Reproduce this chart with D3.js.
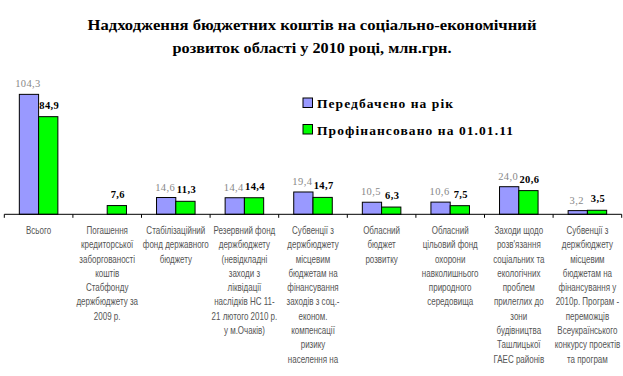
<!DOCTYPE html>
<html lang="uk">
  <head>
    <meta charset="UTF-8" />
    <title>Надходження бюджетних коштів</title>
    <script src="https://cdn.jsdelivr.net/npm/d3@7"></script>
  </head>
  <style>
    body {
      margin: 0;
      background: #fff;
    }
  </style>
  <body>
    <div class="chart"></div>
  </body>

  <script>
    "use strict";

    const categories = [
      ["Всього"],
      ["Погашення", "кредиторської", "заборгованості", "коштів", "Стабфонду", "держбюджету  за", "2009 р."],
      ["Стабілізаційний", "фонд державного", "бюджету"],
      ["Резервний фонд", "держбюджету", "(невідкладні", "заходи з", "ліквідації", "наслідків НС  11-", "21 лютого 2010 р.", "у м.Очаків)"],
      ["Субвенції з", "держбюджету", "місцевим", "бюджетам на", "фінансування", "заходів з соц.-", "економ.", "компенсації", "ризику", "населення на"],
      ["Обласний", "бюджет", "розвитку"],
      ["Обласний", "цільовий фонд", "охорони", "навколишнього", "природного", "середовища"],
      ["Заходи щодо", "розв'язання", "соціальних  та", "екологічних", "проблем", "прилеглих до", "зони", "будівництва", "Ташлицької", "ГАЕС районів"],
      ["Субвенції з", "держбюджету", "місцевим", "бюджетам на", "фінансування у", "2010р. Програм -", "переможців", "Всеукраїнського", "конкурсу  проектів", "та програм"],
    ];
    const planned = [104.3, null, 14.6, 14.4, 19.4, 10.5, 10.6, 24.0, 3.2];
    const financed = [84.9, 7.6, 11.3, 14.4, 14.7, 6.3, 7.5, 20.6, 3.5];
    const seriesNames = ["Передбачено на рік", "Профінансовано на 01.01.11"];
    const titleLines = [
      "Надходження бюджетних коштів  на соціально-економічний",
      "розвиток області  у 2010 році, млн.грн.",
    ];

    const width = 623;
    const height = 376;
    const baseY = 214.3;

    const svg = d3
      .select(".chart")
      .append("svg")
      .attr("width", width)
      .attr("height", height)
      .attr("viewBox", [0, 0, width, height]);

    // title
    svg
      .append("g")
      .selectAll("text")
      .data(titleLines)
      .enter()
      .append("text")
      .attr("x", 312)
      .attr("y", (d, i) => 30 + i * 23)
      .attr("text-anchor", "middle")
      .attr("textLength", (d, i) => (i == 0 ? 449 : 279))
      .attr("lengthAdjust", "spacingAndGlyphs")
      .style("font-family", "'Liberation Serif', 'Times New Roman', serif")
      .style("font-weight", "bold")
      .style("font-size", "15.5px")
      .text((d) => d);

    const idx = d3.range(categories.length);

    const x = d3.scaleBand().domain(idx).range([4.3, 621.7]).padding(0);

    const x1 = d3
      .scaleBand()
      .domain([0, 1])
      .range([0, x.bandwidth()])
      .paddingInner(0)
      .paddingOuter(0.78);

    const y = d3.scaleLinear().domain([0, 120]).range([baseY, baseY - 138]);

    const colors = ["#9999ff", "#00ff00"];

    const rows = [];
    idx.forEach((i) => {
      rows.push({ cat: i, s: 0, v: planned[i] });
      rows.push({ cat: i, s: 1, v: financed[i] });
    });
    const bars = rows.filter((d) => d.v != null);

    svg
      .append("g")
      .selectAll("rect")
      .data(bars)
      .enter()
      .append("rect")
      .attr("x", (d) => x(d.cat) + x1(d.s))
      .attr("y", (d) => y(d.v))
      .attr("width", x1.bandwidth())
      .attr("height", (d) => y(0) - y(d.v))
      .attr("fill", (d) => colors[d.s])
      .attr("stroke", "black")
      .attr("stroke-width", 1);

    // value labels
    svg
      .append("g")
      .selectAll("text")
      .data(bars)
      .enter()
      .append("text")
      .attr("x", (d) => x(d.cat) + x1(d.s) + x1.bandwidth() / 2 + (d.s == 0 ? -1 : 1))
      .attr("y", (d) => y(d.v) - (d.s == 0 ? 7 : 8))
      .attr("text-anchor", "middle")
      .style("font-family", "'Liberation Serif', 'Times New Roman', serif")
      .style("font-size", "10.5px")
      .style("letter-spacing", "0.4px")
      .style("font-weight", (d) => (d.s == 1 ? "bold" : "normal"))
      .style("fill", (d) => (d.s == 1 ? "#000" : "#888"))
      .text((d) => d.v.toFixed(1).replace(".", ","));

    // axis line and ticks at category edges
    const axis = svg.append("g");
    axis
      .append("line")
      .attr("x1", x.range()[0])
      .attr("x2", x.range()[1])
      .attr("y1", baseY)
      .attr("y2", baseY)
      .attr("stroke", "black");
    axis
      .selectAll(".tick")
      .data(idx.map((i) => x(i)).concat([x.range()[1]]))
      .enter()
      .append("line")
      .attr("class", "tick")
      .attr("x1", (d) => d)
      .attr("x2", (d) => d)
      .attr("y1", baseY)
      .attr("y2", baseY + 3.5)
      .attr("stroke", "black");

    // category labels, squeezed horizontally like the original narrow font
    const catG = svg
      .append("g")
      .selectAll("text")
      .data(categories)
      .enter()
      .append("text")
      .attr("transform", (d, i) => `translate(${x(i) + x.bandwidth() / 2},0) scale(0.8,1)`)
      .attr("text-anchor", "middle")
      .style("font-family", "'Liberation Sans', Arial, sans-serif")
      .style("font-size", "10px")
      .style("fill", "#555");

    catG
      .selectAll("tspan")
      .data((d) => d)
      .enter()
      .append("tspan")
      .attr("x", 0)
      .attr("y", (d, j) => 234 + j * 14.3)
      .text((d) => d);

    // legend
    const legend = svg
      .append("g")
      .selectAll("g")
      .data(seriesNames)
      .enter()
      .append("g")
      .attr("transform", (d, i) => `translate(303, ${98 + i * 26.5})`);

    legend
      .append("rect")
      .attr("width", 9.5)
      .attr("height", 9.5)
      .attr("fill", (d, i) => colors[i])
      .attr("stroke", "black");

    legend
      .append("text")
      .attr("x", 14)
      .attr("y", 10)
      .attr("textLength", (d, i) => (i == 0 ? 136 : 196))
      .attr("lengthAdjust", "spacing")
      .style("font-family", "'Liberation Serif', 'Times New Roman', serif")
      .style("font-weight", "bold")
      .style("font-size", "13.5px")
      .text((d) => d);
  </script>
</html>
